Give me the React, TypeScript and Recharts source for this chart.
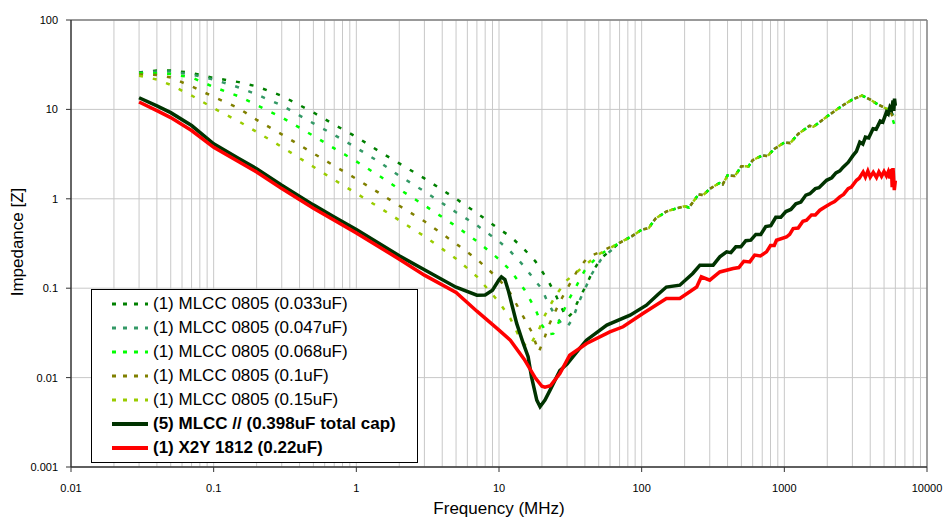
import React from 'react';
import {
  CartesianGrid,
  Legend,
  Line,
  LineChart,
  ReferenceLine,
  XAxis,
  YAxis,
} from 'recharts';

// Impedance vs frequency for single MLCCs, five MLCCs in parallel and one X2Y.
// Each series is a list of [frequency MHz, impedance ohm] readings.

type Pt = [number, number];

const X_TICKS = [0.01, 0.1, 1, 10, 100, 1000, 10000];
const Y_TICKS = [0.001, 0.01, 0.1, 1, 10, 100];

// vertical gridlines at every 1..9 x decade
const GRID_X = [
  0.02, 0.03, 0.04, 0.05, 0.06, 0.07, 0.08, 0.09, 0.1,
  0.2, 0.3, 0.4, 0.5, 0.6, 0.7, 0.8, 0.9, 1,
  2, 3, 4, 5, 6, 7, 8, 9, 10,
  20, 30, 40, 50, 60, 70, 80, 90, 100,
  200, 300, 400, 500, 600, 700, 800, 900, 1000,
  2000, 3000, 4000, 5000, 6000, 7000, 8000, 9000,
];

// shared inductive rise above self resonance (all five 0805 parts)
const MLCC_RISE: Pt[] = [
  [70, 0.322], [85, 0.38], [100, 0.451], [112, 0.47], [125, 0.6],
  [150, 0.725], [175, 0.78], [200, 0.824], [215, 0.8], [250, 1.12],
  [270, 1.1], [300, 1.29], [350, 1.5], [370, 1.45], [400, 1.83],
  [450, 1.8], [500, 2.31], [560, 2.3], [600, 2.7], [700, 3.06],
  [760, 3.0], [850, 3.6], [1000, 4.27], [1100, 4.2], [1250, 5.3],
  [1500, 6.55], [1600, 6.4], [2000, 8.36], [2500, 10.8], [3000, 12.9],
  [3500, 14.3], [4000, 12.9], [4500, 11.4], [5000, 10.5], [5500, 9.75],
];

const mlcc033: Pt[] = [
  [0.03, 25.9], [0.04, 27.2], [0.05, 27.3], [0.07, 25.6], [0.1, 22.5],
  [0.15, 20.2], [0.2, 18.1], [0.3, 14.2], [0.5, 9.25], [0.7, 6.76],
  [1, 4.93], [1.5, 3.27], [2, 2.49], [3, 1.69], [5, 1.0], [7, 0.692],
  [10, 0.46], [12, 0.38], [15, 0.273], [18, 0.2], [20, 0.155], [22, 0.123],
  [25, 0.0836], [28, 0.0568], [30, 0.046], [33, 0.054], [36, 0.0734],
  [40, 0.101], [45, 0.15], [52, 0.217],
];
const mlcc047: Pt[] = [
  [0.03, 25.6], [0.04, 26.6], [0.05, 26.6], [0.07, 24.6], [0.1, 21.6],
  [0.15, 17.6], [0.2, 14.7], [0.3, 11.1], [0.5, 6.98], [0.7, 5.19],
  [1, 3.72], [1.5, 2.49], [2, 1.81], [3, 1.21], [5, 0.707], [7, 0.506],
  [10, 0.334], [12, 0.259], [15, 0.176], [18, 0.12], [20, 0.098],
  [22, 0.0687], [25, 0.0486], [28, 0.0387], [30, 0.0367], [33, 0.046],
  [36, 0.068], [40, 0.098], [45, 0.147], [52, 0.21],
];
const mlcc068: Pt[] = [
  [0.03, 25.4], [0.04, 25.4], [0.05, 24.9], [0.07, 22.8], [0.1, 17.8],
  [0.15, 14.0], [0.2, 11.2], [0.3, 8.15], [0.5, 5.06], [0.7, 3.67],
  [1, 2.62], [1.5, 1.74], [2, 1.28], [3, 0.845], [5, 0.493], [7, 0.335],
  [10, 0.211], [12, 0.159], [15, 0.0975], [18, 0.0582], [20, 0.0387],
  [22, 0.0306], [24, 0.031], [27, 0.046], [30, 0.0687], [35, 0.107],
  [40, 0.159], [50, 0.234],
];
const mlcc100: Pt[] = [
  [0.03, 24.6], [0.04, 24.3], [0.05, 22.8], [0.07, 18.1], [0.1, 13.8],
  [0.15, 10.3], [0.2, 7.64], [0.3, 5.26], [0.5, 3.22], [0.7, 2.34],
  [1, 1.67], [1.5, 1.12], [2, 0.836], [3, 0.561], [5, 0.314], [7, 0.211],
  [10, 0.126], [12, 0.0879], [15, 0.0462], [17, 0.0322], [19, 0.0193],
  [21, 0.0287], [22.1, 0.037], [24.7, 0.0543], [27.5, 0.0767], [35, 0.152],
  [42, 0.224], [50, 0.25],
];
const mlcc150: Pt[] = [
  [0.03, 23.8], [0.04, 21.6], [0.05, 18.8], [0.07, 14.3], [0.1, 10.3],
  [0.15, 7.35], [0.2, 5.61], [0.3, 3.81], [0.5, 2.28], [0.7, 1.63],
  [1, 1.15], [1.5, 0.773], [2, 0.575], [3, 0.381], [5, 0.214], [7, 0.135],
  [10, 0.07], [12, 0.046], [14, 0.0276], [15.7, 0.0218], [17, 0.0249],
  [19, 0.034], [21, 0.05], [25, 0.0836], [30, 0.123], [40, 0.18], [50, 0.24],
];

// last reading of each 0805 trace at 6 GHz
const MLCC_END = [9.5, 8.0, 6.2, 7.0, 8.5];

const mlccParallel: Pt[] = [
  [0.03, 13.5], [0.04, 10.96], [0.05, 9.2], [0.07, 6.6], [0.1, 4.12],
  [0.15, 2.83], [0.2, 2.17], [0.3, 1.42], [0.5, 0.855], [0.7, 0.624],
  [1, 0.452], [2, 0.23], [3, 0.161], [5, 0.1026], [7, 0.0836], [8, 0.084],
  [9, 0.095], [10, 0.124], [10.4, 0.134], [11, 0.125], [11.6, 0.095],
  [13.3, 0.0404], [14.8, 0.0241], [16, 0.0171], [16.9, 0.0102],
  [18.4, 0.0056], [19.4, 0.00472], [21, 0.0056], [22.8, 0.00724],
  [26.7, 0.012], [30, 0.01416], [35, 0.0193], [41, 0.0262], [57, 0.0387],
  [83, 0.0499], [108, 0.0646], [130, 0.085], [149, 0.103], [185, 0.108],
  [228, 0.146], [256, 0.181], [317, 0.181], [353, 0.224], [394, 0.255],
  [422, 0.25], [457, 0.29], [496, 0.29], [537, 0.34], [582, 0.345],
  [631, 0.4], [684, 0.4], [741, 0.49], [804, 0.5], [871, 0.62],
  [944, 0.62], [1025, 0.72], [1111, 0.76], [1205, 0.88], [1306, 0.92],
  [1416, 1.1], [1510, 1.14], [1650, 1.3], [1750, 1.33], [1977, 1.61],
  [2150, 1.72], [2300, 1.95], [2450, 2.05], [2582, 2.26], [2800, 2.55],
  [3034, 3.06], [3200, 3.4], [3381, 4.31], [3550, 4.1], [3700, 4.9],
  [3900, 4.8], [4188, 6.08], [4400, 6.0], [4700, 7.4], [4900, 7.2],
  [5200, 9.33], [5350, 8.9], [5500, 10.6], [5650, 10.0], [5781, 12.6],
  [5850, 9.6], [5920, 13.2], [6000, 11.0],
];

const x2y1812: Pt[] = [
  [0.03, 12.1], [0.04, 9.7], [0.05, 8.1], [0.07, 5.8], [0.1, 3.76],
  [0.15, 2.59], [0.2, 1.99], [0.3, 1.3], [0.5, 0.785], [0.7, 0.575],
  [1, 0.415], [2, 0.211], [3, 0.14], [5, 0.0896], [7, 0.0553], [10, 0.034],
  [12, 0.0262], [15, 0.0161], [18, 0.00987], [20, 0.008], [21, 0.0078],
  [22.9, 0.0081], [26.7, 0.0111], [31.3, 0.0178], [41.1, 0.0241],
  [59.8, 0.0325], [74.1, 0.037], [102, 0.0521], [149, 0.0767],
  [185, 0.0767], [243, 0.103], [262, 0.134], [300, 0.123], [353, 0.152],
  [438, 0.166], [480, 0.17], [520, 0.2], [573, 0.197], [620, 0.235],
  [680, 0.23], [750, 0.255], [800, 0.3], [850, 0.3], [881, 0.344],
  [1035, 0.374], [1090, 0.4], [1153, 0.464], [1250, 0.47], [1350, 0.56],
  [1432, 0.575], [1550, 0.66], [1650, 0.66], [1774, 0.745], [1900, 0.8],
  [2100, 0.88], [2250, 0.93], [2449, 1.05], [2600, 1.12], [2800, 1.3],
  [2950, 1.35], [3206, 1.61], [3350, 1.7], [3566, 1.99], [3700, 1.75],
  [3850, 2.05], [4000, 1.75], [4200, 1.98], [4426, 1.73], [4600, 2.0],
  [4800, 1.78], [5000, 2.02], [5200, 1.8], [5350, 2.0], [5500, 1.7],
  [5636, 2.15], [5700, 1.35], [5781, 2.2], [5900, 1.25], [6000, 1.6],
];

const SERIES = [
  { name: '(1) MLCC 0805 (0.033uF)', pts: mlcc033, color: '#008000', dashed: true },
  { name: '(1) MLCC 0805 (0.047uF)', pts: mlcc047, color: '#339966', dashed: true },
  { name: '(1) MLCC 0805 (0.068uF)', pts: mlcc068, color: '#00FF00', dashed: true },
  { name: '(1) MLCC 0805 (0.1uF)', pts: mlcc100, color: '#808000', dashed: true },
  { name: '(1) MLCC 0805 (0.15uF)', pts: mlcc150, color: '#99CC00', dashed: true },
  { name: '(5) MLCC // (0.398uF total cap)', pts: mlccParallel, color: '#003300', dashed: false },
  { name: '(1) X2Y 1812 (0.22uF)', pts: x2y1812, color: '#FF0000', dashed: false },
];

const rowsFor = (i: number) => {
  const s = SERIES[i];
  const pts = s.dashed ? [...s.pts, ...MLCC_RISE, [6000, MLCC_END[i]] as Pt] : s.pts;
  return pts.map(([f, z]) => ({ f, z }));
};

const FONT = 'Arial, "Liberation Sans", sans-serif';

function LegendBox() {
  return (
    <div
      style={{
        width: 325,
        height: 170,
        border: '1px solid #000',
        background: '#fff',
        fontFamily: FONT,
        fontSize: 17,
        color: '#000',
        paddingTop: 2,
        boxSizing: 'content-box',
      }}
    >
      {SERIES.map((s) => (
        <div
          key={s.name}
          style={{ height: 24, display: 'flex', alignItems: 'center', whiteSpace: 'nowrap' }}
        >
          <svg width={36} height={10} style={{ marginLeft: 20, marginRight: 5 }}>
            <line
              x1={0}
              y1={5}
              x2={36}
              y2={5}
              stroke={s.color}
              strokeWidth={s.dashed ? 3 : 4}
              strokeDasharray={s.dashed ? '4 7' : undefined}
            />
          </svg>
          <span style={{ fontWeight: s.dashed ? 'normal' : 'bold' }}>{s.name}</span>
        </div>
      ))}
    </div>
  );
}

export default function App() {
  return (
    <div
      style={{
        position: 'absolute',
        left: 0,
        top: 0,
        width: 948,
        height: 525,
        background: '#fff',
        fontFamily: FONT,
      }}
    >
      <LineChart width={948} height={525} margin={{ top: 20, right: 21, bottom: 28, left: 11 }}>
        <CartesianGrid
          stroke="#c8c8c8"
          verticalCoordinatesGenerator={({ xAxis, offset }: any) =>
            GRID_X.map((v) =>
              xAxis && typeof xAxis.scale === 'function'
                ? xAxis.scale(v)
                : offset.left + (offset.width * (Math.log10(v) + 2)) / 6,
            )
          }
        />
        <XAxis
          dataKey="f"
          type="number"
          scale="log"
          domain={[0.01, 10000]}
          ticks={X_TICKS}
          interval={0}
          allowDataOverflow
          height={30}
          tickSize={5}
          tickMargin={12}
          tick={{ fontSize: 11, fill: '#000' }}
          axisLine={{ stroke: '#333', strokeWidth: 1.5 }}
          tickLine={{ stroke: '#333' }}
          label={{
            content: () => (
              <text x={499} y={514} textAnchor="middle" fontSize={17} fill="#000">
                Frequency (MHz)
              </text>
            ),
          }}
        />
        <YAxis
          dataKey="z"
          type="number"
          scale="log"
          domain={[0.001, 100]}
          ticks={Y_TICKS}
          interval={0}
          allowDataOverflow
          width={60}
          tickSize={5}
          tickMargin={8}
          tick={{ fontSize: 11, fill: '#000' }}
          axisLine={{ stroke: '#333', strokeWidth: 1.5 }}
          tickLine={{ stroke: '#333' }}
          label={{
            content: () => (
              <text
                x={23}
                y={242}
                textAnchor="middle"
                fontSize={17}
                fill="#000"
                transform="rotate(-90 23 242)"
              >
                Impedance [Z]
              </text>
            ),
          }}
        />
        <ReferenceLine y={100} stroke="#808080" strokeWidth={1.5} />
        <ReferenceLine x={10000} stroke="#808080" strokeWidth={1.5} />
        {SERIES.map((s, i) => (
          <Line
            key={s.name}
            data={rowsFor(i)}
            dataKey="z"
            name={s.name}
            type="linear"
            stroke={s.color}
            strokeWidth={s.dashed ? 2.5 : 3.5}
            strokeDasharray={s.dashed ? '4 10' : undefined}
            dot={false}
            activeDot={false}
            isAnimationActive={false}
          />
        ))}
        <Legend
          layout="vertical"
          align="center"
          verticalAlign="middle"
          content={() => <LegendBox />}
          wrapperStyle={{ position: 'absolute', left: 91, top: 289, width: 327, height: 172 }}
        />
      </LineChart>
    </div>
  );
}
